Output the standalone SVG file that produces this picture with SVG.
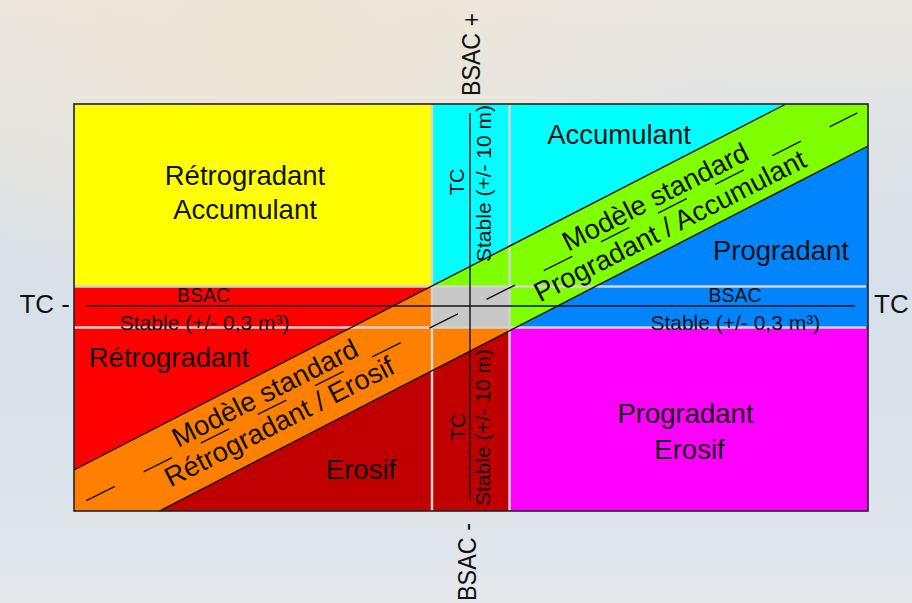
<svg xmlns="http://www.w3.org/2000/svg" width="912" height="603" viewBox="0 0 912 603">
<defs>
<linearGradient id="bg" x1="0" y1="0" x2="0" y2="1">
<stop offset="0" stop-color="#ebe8e2"/>
<stop offset="0.15" stop-color="#e3e4e4"/>
<stop offset="0.45" stop-color="#d7e0ea"/>
<stop offset="0.8" stop-color="#dbe3eb"/>
<stop offset="1" stop-color="#e6e9ec"/>
</linearGradient>
<radialGradient id="warm" cx="0.3" cy="0.1" r="0.5">
<stop offset="0" stop-color="#efe6d4" stop-opacity="0.9"/>
<stop offset="1" stop-color="#efe6d4" stop-opacity="0"/>
</radialGradient>
<clipPath id="ur"><rect x="432" y="100" width="440" height="228"/></clipPath>
<polygon id="bandShape" points="74,470 785,104.5 868,104.5 868,146 159.5,511 74,511"/>
</defs>
<style>
text{font-family:"Liberation Sans",Arial,sans-serif;fill:#111}
.lab{font-size:27.5px}
.mid{text-anchor:middle}
.sm{font-size:21px}
.bs{font-size:19.5px}
.sep{stroke:#d3d3d3;stroke-width:2.5;fill:none}
.blk{stroke:#111;stroke-width:1.4;fill:none}
</style>
<g id="background">
<rect x="0" y="0" width="912" height="603" fill="url(#bg)"/>
<rect x="0" y="0" width="912" height="603" fill="url(#warm)"/>
</g>
<g id="cells">
<rect id="retro-accu" x="74" y="104" width="358" height="183" fill="#ffff00"/>
<rect id="progradant" x="510" y="104" width="358" height="224" fill="#0085ff"/>
<polygon id="accumulant" points="432,104 786,104 432,286.5" fill="#00ffff"/>
<rect id="erosif" x="74" y="287" width="436" height="224" fill="#c00000"/>
<polygon id="retrogradant" points="74,287 432.5,287 74,470" fill="#ff0000"/>
</g>
<g id="band">
<use href="#bandShape" fill="#ff8000"/>
<use href="#bandShape" fill="#80ff00" clip-path="url(#ur)"/>
</g>
<g id="cells2">
<rect id="prog-erosif" x="510" y="328" width="358" height="183" fill="#ff00ff"/>
<rect id="centre" x="432" y="287" width="78" height="41" fill="#c8c8c8"/>
</g>
<g id="separators">
<line class="sep" x1="432" y1="104" x2="432" y2="511"/>
<line class="sep" x1="509.5" y1="104" x2="509.5" y2="511"/>
<line class="sep" x1="74" y1="286.5" x2="866" y2="286.5"/>
<line class="sep" x1="74" y1="327.5" x2="866" y2="327.5"/>
</g>
<g id="connectors">
<line class="blk" x1="74" y1="470" x2="785" y2="104.5"/>
<line class="blk" x1="159.5" y1="511" x2="868" y2="146"/>
<line class="blk" x1="86.3" y1="500.7" x2="857.3" y2="112.9" stroke-dasharray="32 32"/>
<line class="blk" x1="86" y1="306" x2="855" y2="306"/>
<line class="blk" x1="470" y1="113" x2="470" y2="500"/>
</g>
<rect id="frame" x="74" y="104" width="794" height="407" fill="none" stroke="#222" stroke-width="1.6"/>
<g id="labels">
<text class="lab mid" x="245" y="184.5">Rétrogradant</text>
<text class="lab mid" x="245" y="218.5">Accumulant</text>
<text class="lab mid" x="619" y="143.5">Accumulant</text>
<text class="lab mid" x="781" y="259.5">Progradant</text>
<text class="lab mid" x="169" y="366.5">Rétrogradant</text>
<text class="lab mid" x="361" y="478.5">Erosif</text>
<text class="lab mid" x="685.5" y="422.5">Progradant</text>
<text class="lab mid" x="689.5" y="458.5">Erosif</text>
<text class="bs mid" x="203.5" y="301.5">BSAC</text>
<text class="sm mid" x="204.7" y="329.5">Stable (+/- 0,3 m³)</text>
<text class="bs mid" x="735" y="301.5">BSAC</text>
<text class="sm mid" x="735.3" y="329.5">Stable (+/- 0,3 m³)</text>
<text x="70" y="312.5" font-size="26" text-anchor="end">TC -</text>
<text x="874" y="312.5" font-size="26">TC</text>
<text transform="translate(479.5,96) rotate(-90)" font-size="25" textLength="83" lengthAdjust="spacingAndGlyphs">BSAC +</text>
<text transform="translate(475.5,601) rotate(-90)" font-size="25" textLength="78" lengthAdjust="spacingAndGlyphs">BSAC -</text>
<text class="mid" transform="translate(463.5,182) rotate(-90)" font-size="20">TC</text>
<text class="sm mid" transform="translate(490.5,183.5) rotate(-90)">Stable (+/- 10 m)</text>
<text class="mid" transform="translate(465,427) rotate(-90)" font-size="20">TC</text>
<text class="sm mid" transform="translate(490,427.5) rotate(-90)">Stable (+/- 10 m)</text>
<text class="lab mid" transform="translate(269.2,401.5) rotate(-27)">Modèle standard</text>
<text class="lab mid" transform="translate(283.6,430) rotate(-27)">Rétrogradant / Erosif</text>
<text class="lab mid" transform="translate(659.6,205.2) rotate(-27)">Modèle standard</text>
<text class="lab mid" transform="translate(674.2,234.1) rotate(-27)">Progradant / Accumulant</text>
</g>
</svg>
